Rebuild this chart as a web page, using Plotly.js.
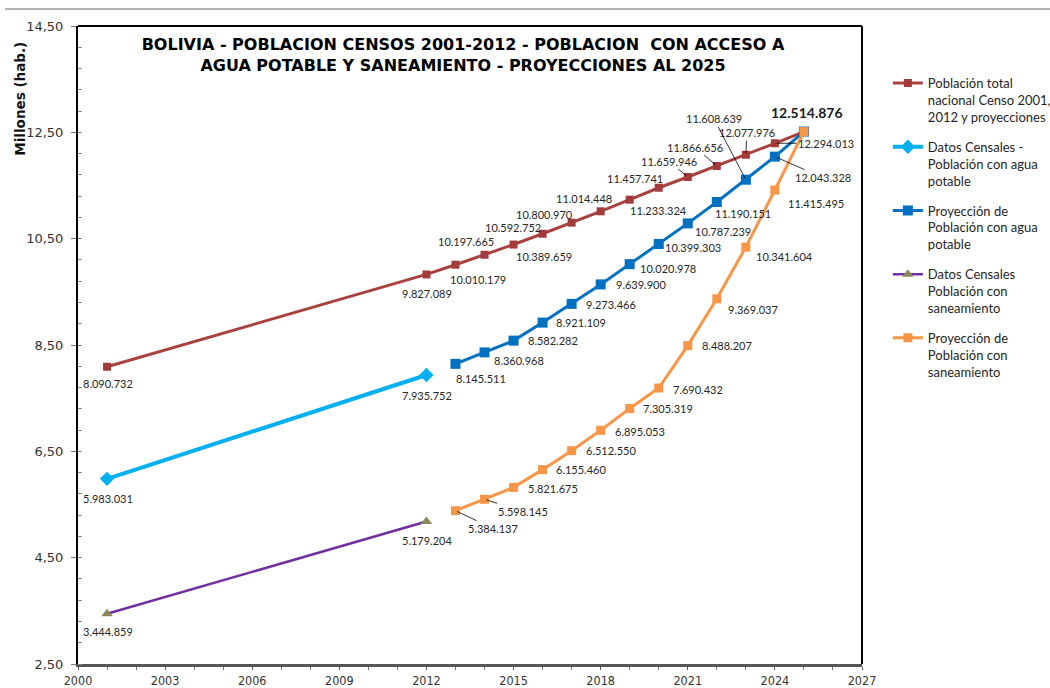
<!DOCTYPE html>
<html>
<head>
<meta charset="utf-8">
<script src="https://cdn.plot.ly/plotly-3.0.1.min.js"></script>
<style>html,body{margin:0;padding:0;background:#fff;}#chart{width:1050px;height:688px;}</style>
</head>
<body>
<div id="chart"></div>
<script>
// ---- data ----
const yearsTotal = [2001, 2012, 2013, 2014, 2015, 2016, 2017, 2018, 2019, 2020, 2021, 2022, 2023, 2024, 2025];
const poblacionTotal = [8090732, 9827089, 10010179, 10197665, 10389659, 10592752, 10800970, 11014448, 11233324, 11457741, 11659946, 11866656, 12077976, 12294013, 12514876];
const yearsCenso = [2001, 2012];
const censoAgua = [5983031, 7935752];
const censoSaneamiento = [3444859, 5179204];
const yearsProy = [2013, 2014, 2015, 2016, 2017, 2018, 2019, 2020, 2021, 2022, 2023, 2024, 2025];
const proyAgua = [8145511, 8360968, 8582282, 8921109, 9273466, 9639900, 10020978, 10399303, 10787239, 11190151, 11608639, 12043328, 12514876];
const proySaneamiento = [5384137, 5598145, 5821675, 6155460, 6512550, 6895053, 7305319, 7690432, 8488207, 9369037, 10341604, 11415495, 12514876];

const seriesNames = [
  'Población total<br>nacional Censo 2001,<br>2012 y proyecciones',
  'Datos Censales -<br>Población con agua<br>potable',
  'Proyección de<br>Población con agua<br>potable',
  'Datos Censales<br>Población con<br>saneamiento',
  'Proyección de<br>Población con<br>saneamiento'
];
const yTickVals = [2.5, 4.5, 6.5, 8.5, 10.5, 12.5, 14.5];
const xTickVals = [2000, 2003, 2006, 2009, 2012, 2015, 2018, 2021, 2024, 2027];

// ---- label placement (pixel offsets dx, dy; L = leader line; B = bold) ----
const offTotal = [[1,17],[1,19],[23,15],[-19,-13],[30,12],[-30,-6],[-27,-8],[-17,-13],[29,11],[-24,-9],[-19,-16,'L'],[-22,-19,'L'],[1,-22,'L'],[51,0,'L'],[3,-19,'B']];
const offCensoAgua = [[1,20],[1,20]];
const offCensoSan = [[1,18],[1,19]];
const offProyAgua = [[26,15],[34,8],[39,0],[38,0],[39,1],[40,0],[38,4],[34,3],[35,8],[26,12],[-32,-61,'L'],[48,21,'L'],null];
const offProySan = [[38,18,'L'],[38,12,'L'],[39,1],[38,0],[39,0],[39,1],[38,0],[39,1],[39,0],[36,11],[39,9],[41,14],null];

const colors = {red:'#A8423F', red2:'#A33B3A', light:'#00B0F0', blue:'#0070C0', purple:'#7030A0', tri:'#8A8A58', orange:'#F79646'};
const labelFont = {family:'Lato, Noto Sans, sans-serif', size:11, color:'#262626'};

function fmt(n){ return String(n).replace(/\B(?=(\d{3})+(?!\d))/g, '.'); }
const mill = a => a.map(v => v / 1e6);

const traces = [
  {x: yearsTotal, y: mill(poblacionTotal), name: seriesNames[0], legendgroup:'a', mode:'lines+markers',
   line:{color:colors.red, width:3}, marker:{symbol:'square', size:8, color:colors.red2}},
  {x: yearsCenso, y: mill(censoAgua), name: seriesNames[1], legendgroup:'b', mode:'lines+markers',
   line:{color:colors.light, width:4}, marker:{symbol:'diamond', size:11, color:colors.light}},
  {x: yearsProy, y: mill(proyAgua), name: seriesNames[2], legendgroup:'c', mode:'lines+markers',
   line:{color:colors.blue, width:3}, marker:{symbol:'square', size:10, color:colors.blue}},
  {x: yearsCenso, y: mill(censoSaneamiento), name: seriesNames[3], legendgroup:'d', mode:'lines+markers',
   line:{color:colors.purple, width:2.5}, marker:{symbol:'triangle-up', size:10, color:colors.tri}},
  {x: yearsProy, y: mill(proySaneamiento), name: seriesNames[4], legendgroup:'e', mode:'lines+markers',
   line:{color:colors.orange, width:3}, marker:{symbol:'square', size:9, color:colors.orange}}
];

const annotations = [];
function addLabels(xs, vals, offs){
  xs.forEach((x, i) => {
    const o = offs[i];
    if (!o) return;
    const base = {x: x, y: vals[i] / 1e6, xref:'x', yref:'y', text: fmt(vals[i]), font: Object.assign({}, labelFont)};
    if (o[2] === 'L') {
      Object.assign(base, {showarrow:true, arrowhead:0, arrowwidth:0.8, arrowcolor:'#000', ax:o[0], ay:o[1], standoff:2});
    } else if (o[2] === 'B') {
      Object.assign(base, {showarrow:false, xshift:o[0], yshift:-o[1], font:{family:'Lato, Noto Sans, sans-serif', size:14, color:'#1a1a1a', weight:700}});
    } else {
      Object.assign(base, {showarrow:false, xshift:o[0], yshift:-o[1]});
    }
    annotations.push(base);
  });
}
addLabels(yearsTotal, poblacionTotal, offTotal);
addLabels(yearsCenso, censoAgua, offCensoAgua);
addLabels(yearsProy, proyAgua, offProyAgua);
addLabels(yearsCenso, censoSaneamiento, offCensoSan);
addLabels(yearsProy, proySaneamiento, offProySan);

annotations.push({text:'Millones (hab.)', xref:'paper', yref:'paper', x:-0.074, y:0.886, xanchor:'center', yanchor:'middle',
  showarrow:false, textangle:-90,
  font:{family:'DejaVu Sans, sans-serif', size:13.5, color:'#111', weight:700}});

const layout = {
  width:1050, height:688,
  margin:{l:78, r:188, t:26, b:24, autoexpand:false},
  paper_bgcolor:'#fff', plot_bgcolor:'#fff',
  separators: ',.',
  showlegend:true,
  title:{text:'BOLIVIA - POBLACION CENSOS 2001-2012 - POBLACION\u00a0 CON ACCESO A<br>AGUA POTABLE Y SANEAMIENTO - PROYECCIONES AL 2025',
    x:463/1050, xref:'container', xanchor:'center', y:1-50/688, yref:'container', yanchor:'middle',
    font:{family:'DejaVu Sans, sans-serif', size:16, color:'#000', weight:700}},
  xaxis:{range:[2000, 2027], tickvals:xTickVals, ticktext:xTickVals.map(String), ticks:'outside', ticklen:3, tickcolor:'#555',
    showgrid:false, zeroline:false, showline:true, linecolor:'#555', linewidth:3,
    minor:{dtick:1, ticks:'outside', ticklen:3, tickcolor:'#777'},
    tickfont:{family:'DejaVu Sans Condensed, DejaVu Sans, sans-serif', size:12.5, color:'#333'}},
  yaxis:{range:[2.5, 14.5], tickvals:yTickVals, tickformat:'.2f', ticks:'outside', ticklen:5, tickcolor:'#777',
    showgrid:false, zeroline:false, showline:true, linecolor:'#000', linewidth:2,
    minor:{dtick:0.4, tick0:2.5, ticks:'inside', ticklen:4, tickcolor:'#888'},
    ticklabelstandoff:5,
    tickfont:{family:'DejaVu Sans, sans-serif', size:13, color:'#333'}},
  legend:{x:1.033, xanchor:'left', y:0.934, yanchor:'top', valign:'top', tracegroupgap:10,
    font:{family:'Lato, Noto Sans, sans-serif', size:13, color:'#1f1f1f'}, bgcolor:'rgba(0,0,0,0)'},
  shapes:[
    {type:'line', xref:'paper', yref:'paper', x0:0, x1:1, y0:1, y1:1, line:{color:'#000', width:2}},
    {type:'line', xref:'paper', yref:'paper', x0:1, x1:1, y0:0, y1:1, line:{color:'#000', width:2}},
    {type:'line', xref:'paper', yref:'paper', x0:-0.093, x1:1.25, y0:1+17/638, y1:1+17/638, line:{color:'#9a9a9a', width:1.5}}
  ],
  annotations: annotations
};

Plotly.newPlot('chart', traces, layout, {displayModeBar:false, staticPlot:true});
</script>
</body>
</html>
